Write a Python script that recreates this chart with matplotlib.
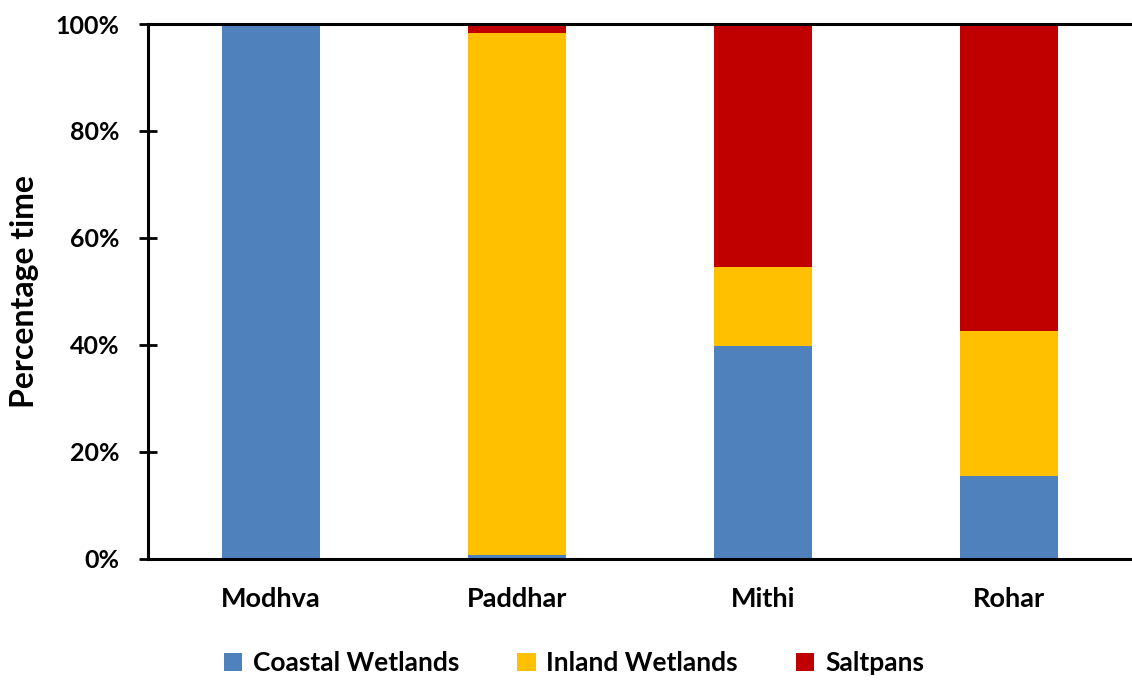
import matplotlib
matplotlib.use("Agg")
import matplotlib.pyplot as plt
import numpy as np
from matplotlib.ticker import FuncFormatter

# share of time spent in each habitat, per site (%)
sites = ["Modhva", "Paddhar", "Mithi", "Rohar"]
coastal = [100.0, 0.8, 39.8, 15.6]
inland = [0.0, 97.5, 14.8, 27.0]
saltpans = [0.0, 1.7, 45.4, 57.4]

plt.rcParams['font.family'] = ['Lato', 'DejaVu Sans']
plt.rcParams['font.weight'] = 'bold'

fig = plt.figure(figsize=(11.32, 6.8), dpi=100)
ax = fig.add_axes([0.1307, 0.178, 0.8693, 0.7867])

x = np.arange(len(sites))
w = 0.40
ax.bar(x, coastal, w, color="#4F81BD", label="Coastal Wetlands")
ax.bar(x, inland, w, bottom=coastal, color="#FFC000", label="Inland Wetlands")
bottom2 = np.array(coastal) + np.array(inland)
ax.bar(x, saltpans, w, bottom=bottom2, color="#C00000", label="Saltpans")

ax.set_xlim(-0.5, len(sites) - 0.5)
ax.set_ylim(0, 100)
ax.set_yticks(range(0, 101, 20))
ax.yaxis.set_major_formatter(FuncFormatter(lambda v, p: f"{v:.0f}%"))
ax.set_xticks(x)
ax.set_xticklabels(sites)

for s in ["left", "bottom", "top"]:
    ax.spines[s].set_linewidth(2.2)
    ax.spines[s].set_color("black")
ax.spines["right"].set_visible(False)

ax.tick_params(axis="y", direction="inout", length=13, width=2, pad=14, labelsize=18)
ax.tick_params(axis="x", length=0, pad=20, labelsize=19.5)
for lbl in ax.get_xticklabels() + ax.get_yticklabels():
    lbl.set_fontweight("bold")

ax.set_ylabel("Percentage time", fontsize=23, fontweight="bold", labelpad=12)

fig.legend(loc="center", bbox_to_anchor=(0.507, 0.025), ncol=3, frameon=False,
           handlelength=0.7, handleheight=0.7, handletextpad=0.4,
           columnspacing=2.2, prop={"weight": "bold", "size": 19})

fig.savefig("out.png", dpi=100)
